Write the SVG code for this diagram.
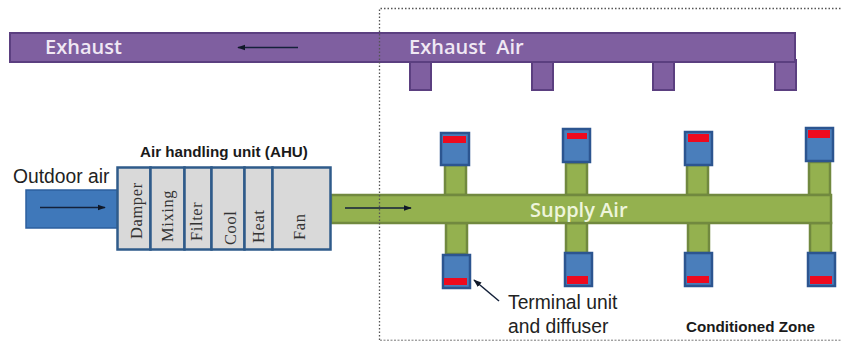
<svg xmlns="http://www.w3.org/2000/svg" width="841" height="341" viewBox="0 0 841 341">
<style>
.pur{fill:#7f5fa0;stroke:#5b3f80;stroke-width:2}
.grn{fill:#94b14f;stroke:#71893f;stroke-width:2.5}
.box{fill:#4a7ebb;stroke:#2c5590;stroke-width:2.5}
.red{fill:#ee0a1e}
.cell{fill:#d9d9d9;stroke:#2f5b8a;stroke-width:2.500}
.duct{font:600 20px "Open Sans","Noto Sans",sans-serif}
.lab{font:19.300px "Liberation Sans",Arial,sans-serif;fill:#222}
.bold{font:bold 15.200px "Liberation Sans",Arial,sans-serif;fill:#1a1a1a}
.sec{font:16.500px "Liberation Serif","Times New Roman",serif;fill:#333;letter-spacing:.6px}
.arr{fill:none;stroke:#14213a;stroke-width:1.5}
</style>
<defs>
<marker id="ah" viewBox="0 0 10 10" refX="9" refY="5" markerWidth="5.5" markerHeight="5.5" orient="auto"><path d="M0 1.5L10 5L0 8.500z" fill="#101828"/></marker>
</defs>
<g id="exhaust-duct">
<rect class="pur" x="410" y="60" width="21" height="30"/>
<rect class="pur" x="532" y="60" width="21" height="30"/>
<rect class="pur" x="653" y="60" width="21" height="30"/>
<rect class="pur" x="775" y="60" width="21" height="30"/>
<rect class="pur" x="10" y="33" width="785" height="29"/>
<text class="duct" x="45" y="54" fill="#f0e8f4">Exhaust</text>
<text class="duct" x="409" y="54" fill="#f0e8f4" xml:space="preserve">Exhaust  Air</text>
</g>
<g id="supply-duct">
<rect class="grn" x="445" y="165" width="21" height="30"/>
<rect class="grn" x="566" y="163" width="21" height="32"/>
<rect class="grn" x="687" y="165" width="21" height="30"/>
<rect class="grn" x="809" y="162" width="21" height="33"/>
<rect class="grn" x="446" y="223" width="21" height="31"/>
<rect class="grn" x="566" y="223" width="21" height="30"/>
<rect class="grn" x="688" y="223" width="21" height="30"/>
<rect class="grn" x="810" y="223" width="21" height="30"/>
<rect class="grn" x="331" y="195" width="500" height="28"/>
<text class="duct" x="530" y="217" fill="#eef5dc">Supply Air</text>
</g>
<g id="terminals-top">
<rect class="box" x="441" y="133" width="28" height="32"/><rect class="red" x="443" y="136" width="23" height="7"/>
<rect class="box" x="563" y="129" width="27" height="33"/><rect class="red" x="567" y="133" width="20" height="6"/>
<rect class="box" x="685" y="132" width="27" height="33"/><rect class="red" x="688" y="134" width="21" height="8"/>
<rect class="box" x="806" y="128" width="27" height="33"/><rect class="red" x="808" y="130" width="22" height="8"/>
</g>
<g id="terminals-bottom">
<rect class="box" x="443" y="255" width="27" height="33"/><rect class="red" x="444" y="278" width="23" height="7"/>
<rect class="box" x="565" y="253" width="27" height="33"/><rect class="red" x="567" y="276" width="21" height="8"/>
<rect class="box" x="685" y="253" width="27" height="33"/><rect class="red" x="687" y="276" width="22" height="7"/>
<rect class="box" x="808" y="253" width="27" height="33"/><rect class="red" x="810" y="276" width="22" height="8"/>
</g>
<g id="outdoor-air">
<rect x="26" y="190" width="92" height="38" fill="#3f78ba" stroke="#2c5f9e" stroke-width="1.500"/>
<text class="lab" x="13" y="183">Outdoor air</text>
</g>
<g id="ahu">
<rect class="cell" x="117.500" y="167.500" width="33" height="82"/>
<rect class="cell" x="150.500" y="167.500" width="34" height="82"/>
<rect class="cell" x="184.500" y="167.500" width="27" height="82"/>
<rect class="cell" x="211.500" y="167.500" width="33" height="82"/>
<rect class="cell" x="244.500" y="167.500" width="28" height="82"/>
<rect class="cell" x="272.500" y="167.500" width="58" height="82"/>
<text class="sec" transform="translate(142 239) rotate(-90)">Damper</text>
<text class="sec" transform="translate(173 242) rotate(-90)">Mixing</text>
<text class="sec" transform="translate(202 241) rotate(-90)">Filter</text>
<text class="sec" transform="translate(236 245) rotate(-90)">Cool</text>
<text class="sec" transform="translate(264 243) rotate(-90)">Heat</text>
<text class="sec" transform="translate(305 240) rotate(-90)">Fan</text>
<text class="bold" x="140" y="157">Air handling unit (AHU)</text>
</g>
<g id="zone">
<path d="M379.500 340V8.500H841" fill="none" stroke="#555" stroke-width="1.300" stroke-dasharray="1.500 2"/>
<path d="M380 340.200H841" fill="none" stroke="#777" stroke-width="1" stroke-dasharray="2 1.500"/>
<text class="bold" x="686" y="332">Conditioned Zone</text>
</g>
<g id="connectors">
<path class="arr" d="M40 207.500H105" marker-end="url(#ah)"/>
<path class="arr" d="M345 208H411" marker-end="url(#ah)"/>
<path class="arr" d="M298 47.500H238" marker-end="url(#ah)"/>
<path class="arr" d="M499 301L474 280" stroke="#333" marker-end="url(#ah)"/>
</g>
<g id="terminal-label">
<text class="lab" x="508" y="309">Terminal unit</text>
<text class="lab" x="508" y="333">and diffuser</text>
</g>
</svg>
